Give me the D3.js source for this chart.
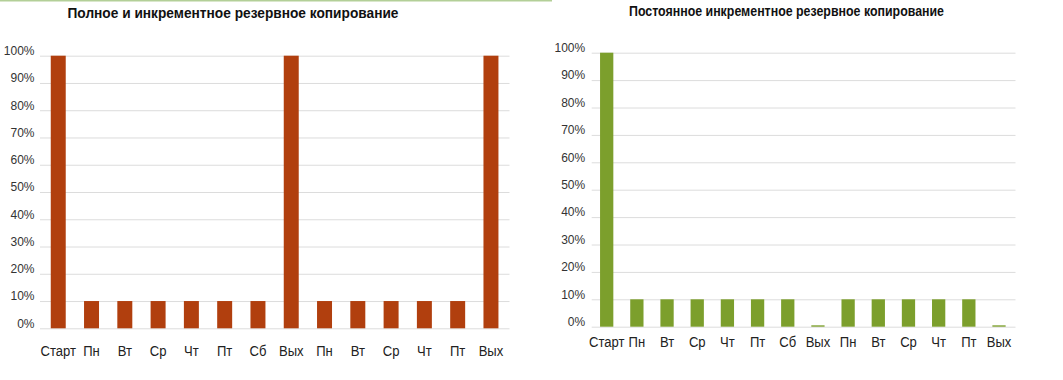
<!DOCTYPE html>
<html>
<head>
<meta charset="utf-8">
<script src="https://cdn.jsdelivr.net/npm/d3@7"></script>
<style>
  html, body { margin: 0; padding: 0; background: #ffffff; }
  svg { display: block; }
</style>
</head>
<body>
<svg id="chart" width="1063" height="380"></svg>
<script>
// ---- data ----
const categories = ["Старт", "Пн", "Вт", "Ср", "Чт", "Пт", "Сб", "Вых", "Пн", "Вт", "Ср", "Чт", "Пт", "Вых"];
const fullIncrementalValues = [100, 10, 10, 10, 10, 10, 10, 100, 10, 10, 10, 10, 10, 100];
const continuousIncrementalValues = [100, 10, 10, 10, 10, 10, 10, 0.5, 10, 10, 10, 10, 10, 0.5];
const yTickValues = [0, 10, 20, 30, 40, 50, 60, 70, 80, 90, 100];
const titleFull = "Полное и инкрементное резервное копирование";
const titleContinuous = "Постоянное инкрементное резервное копирование";

const svg = d3.select("#chart");

// thin green rule at the very top of the left panel
svg.append("line")
  .attr("x1", 0).attr("x2", 552).attr("y1", 0.8).attr("y2", 0.8)
  .attr("stroke", "#b3cf98").attr("stroke-width", 1.6);

const panels = [
  {
    title: titleFull, values: fullIncrementalValues, color: "#b13f0e",
    titleX: 233, titleY: 17.5, titleWidth: 331,
    gridX0: 40, gridX1: 509.5, bandX0: 41.6, bandX1: 507.6, padding: 0.55,
    y0: 328.3, y100: 55.7, labelGap: 5.5, xLabelOffset: 27.7
  },
  {
    title: titleContinuous, values: continuousIncrementalValues, color: "#7c9f2c",
    titleX: 786.5, titleY: 15.5, titleWidth: 315,
    gridX0: 591.7, gridX1: 1015.5, bandX0: 591.6, bandX1: 1014.1, padding: 0.56,
    y0: 326.7, y100: 52.7, labelGap: 6.5, xLabelOffset: 19.8
  }
];

panels.forEach(p => {
  const g = svg.append("g");

  const x = d3.scaleBand()
    .domain(d3.range(categories.length))
    .range([p.bandX0, p.bandX1])
    .paddingInner(p.padding)
    .paddingOuter(p.padding / 2);

  const y = d3.scaleLinear().domain([0, 100]).range([p.y0, p.y100]);

  // title
  g.append("text")
    .attr("x", p.titleX).attr("y", p.titleY)
    .attr("text-anchor", "middle")
    .attr("font-family", "'Liberation Sans', Arial, sans-serif")
    .attr("font-weight", "bold")
    .attr("font-size", 14.5)
    .attr("textLength", p.titleWidth)
    .attr("lengthAdjust", "spacingAndGlyphs")
    .attr("fill", "#111")
    .text(p.title);

  // y axis with gridlines
  const yAxis = d3.axisLeft(y)
    .tickValues(yTickValues)
    .tickSize(-(p.gridX1 - p.gridX0))
    .tickPadding(p.labelGap)
    .tickFormat(d => d + "%");

  const ya = g.append("g")
    .attr("transform", `translate(${p.gridX0},0)`)
    .call(yAxis);
  ya.select(".domain").remove();
  ya.selectAll(".tick line").attr("stroke", "#dcdcdc").attr("stroke-width", 1);
  ya.selectAll(".tick text")
    .attr("font-family", "'Liberation Sans', Arial, sans-serif")
    .attr("font-size", 12)
    .attr("fill", "#333")
    .attr("dy", 0)
    .attr("y", -1.2);

  // bars
  g.append("g").selectAll("rect")
    .data(p.values)
    .join("rect")
    .attr("x", (d, i) => x(i))
    .attr("width", x.bandwidth())
    .attr("y", d => y(d))
    .attr("height", d => y(0) - y(d))
    .attr("fill", p.color);

  // x axis labels (condensed look via horizontal scaling)
  const xAxis = d3.axisBottom(x)
    .tickSize(0)
    .tickPadding(0)
    .tickFormat(i => categories[i]);
  const xa = g.append("g")
    .attr("transform", `translate(0,${p.y0})`)
    .call(xAxis);
  xa.select(".domain").remove();
  xa.selectAll(".tick text")
    .attr("font-family", "'Liberation Sans', Arial, sans-serif")
    .attr("font-size", 14.5)
    .attr("fill", "#222")
    .attr("dy", 0)
    .attr("y", 0)
    .attr("transform", `translate(0,${p.xLabelOffset}) scale(0.9,1)`);
});
</script>
</body>
</html>
